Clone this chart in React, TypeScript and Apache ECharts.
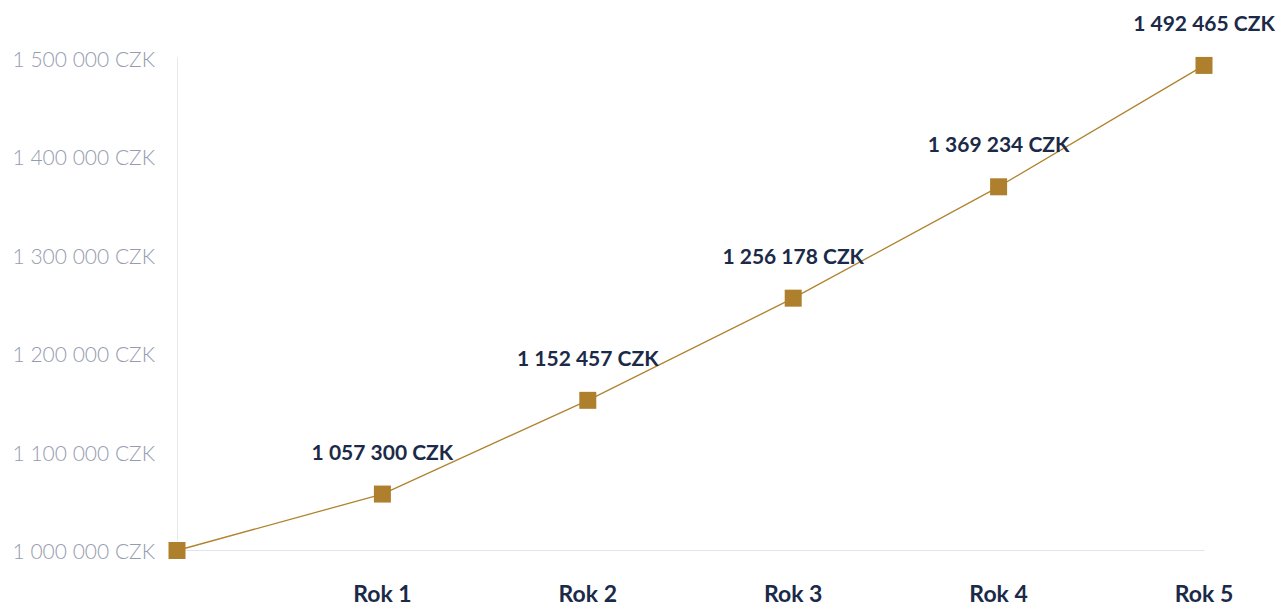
import React, { useEffect, useRef } from "react";
import * as echarts from "echarts";

const categories = ["", "Rok 1", "Rok 2", "Rok 3", "Rok 4", "Rok 5"];
const values = [1000000, 1057300, 1152457, 1256178, 1369234, 1492465];
const yMin = 1000000;
const yMax = 1500000;
const yStep = 100000;

const fmt = (v: number) =>
  Math.round(v).toString().replace(/\B(?=(\d{3})+(?!\d))/g, " ") + " CZK";

export default function App() {
  const ref = useRef<HTMLDivElement>(null);
  useEffect(() => {
    if (!ref.current) return;
    const chart = echarts.init(ref.current, undefined, { renderer: "svg" });
    chart.setOption({
      animation: false,
      grid: { left: 177, right: 77, top: 58, bottom: 52, containLabel: false },
      xAxis: {
        type: "category",
        data: categories,
        boundaryGap: false,
        axisLine: { show: true, lineStyle: { color: "#e2e3ec", width: 1 } },
        axisTick: { show: false },
        splitLine: { show: false },
        axisLabel: {
          margin: 32,
          fontFamily: "Lato",
          fontWeight: "bold",
          fontSize: 23,
          lineHeight: 20,
          color: "#1b2a48",
        },
      },
      yAxis: {
        type: "value",
        min: yMin,
        max: yMax,
        interval: yStep,
        axisLine: { show: true, lineStyle: { color: "#e8e9ef", width: 1 } },
        axisTick: { show: false },
        splitLine: { show: false },
        axisLabel: {
          margin: 22,
          fontFamily: "Lato",
          fontWeight: 300,
          fontSize: 21,
          color: "#969cb0",
          formatter: (v: number) => fmt(v),
        },
      },
      series: [
        {
          type: "line",
          data: values.map((v, i) => ({
            value: v,
            label: { show: i > 0 },
          })),
          symbol: "rect",
          symbolSize: 17,
          lineStyle: { color: "#b0832f", width: 1.3 },
          itemStyle: { color: "#ae7f2c" },
          label: {
            show: true,
            position: "top",
            distance: 24,
            fontFamily: "Lato",
            fontWeight: "bold",
            fontSize: 21,
            color: "#1b2a48",
            formatter: (p: any) => fmt(p.value),
          },
        },
      ],
    });
    return () => chart.dispose();
  }, []);
  return (
    <div
      ref={ref}
      style={{ position: "absolute", left: 0, top: 0, width: 1281, height: 604, background: "#fff" }}
    />
  );
}
